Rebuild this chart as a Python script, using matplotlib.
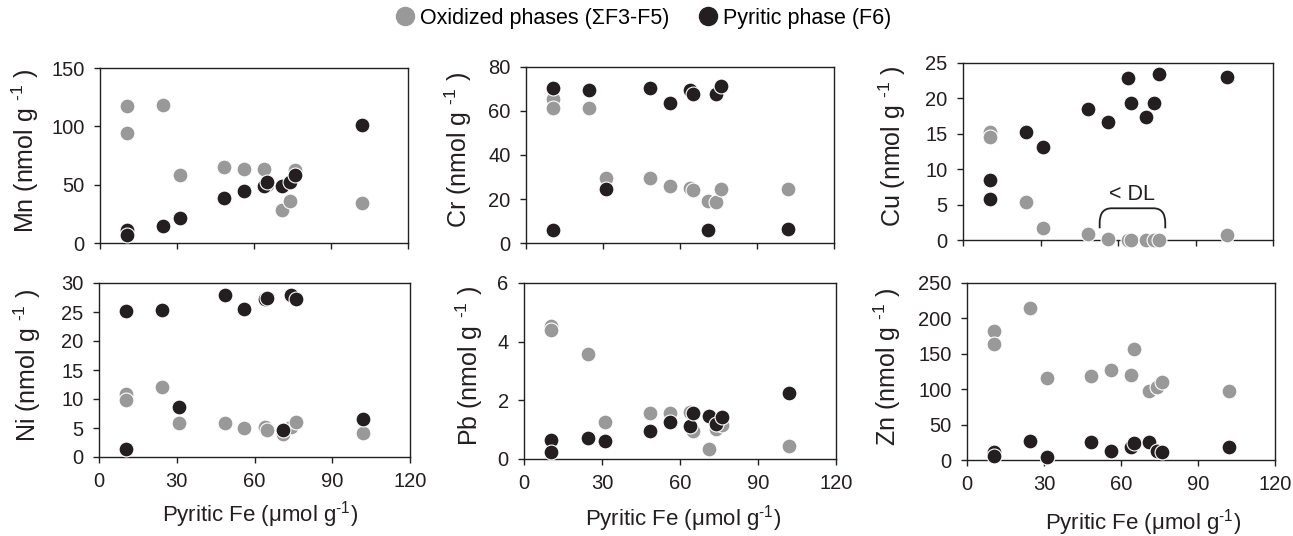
import matplotlib.pyplot as plt
from matplotlib.path import Path
from matplotlib.patches import PathPatch

plt.rcParams['font.family'] = ['Liberation Sans', 'DejaVu Sans']
plt.rcParams['mathtext.fontset'] = 'custom'
plt.rcParams['mathtext.rm'] = 'Liberation Sans'
plt.rcParams['mathtext.it'] = 'Liberation Sans:italic'

# Pyritic Fe (umol/g) for each sample
pyr_fe = [10.5, 10.5, 24.5, 31, 48.5, 56, 64, 65, 71, 74, 76, 102]

# Oxidized phases (sum F3-F5)
mn_ox = [117.6, 94.6, 118.2, 58, 65.4, 63.7, 63.7, 50, 28, 35.6, 62.5, 34.4]
cr_ox = [65.4, 61.3, 61.3, 29.7, 29.7, 25.9, 24.8, 24.0, 19.2, 18.7, 24.5, 24.5]
cu_ox = [15.2, 14.5, 5.3, 1.7, 0.85, 0.1, 0, 0, 0, 0, 0, 0.7]
ni_ox = [10.8, 9.9, 12.0, 5.9, 5.8, 5.0, 5.2, 4.7, 4.0, 5.2, 6.1, 4.2]
pb_ox = [4.53, 4.39, 3.57, 1.26, 1.56, 1.56, 1.59, 0.94, 0.34, 1.02, 1.17, 0.46]
zn_ox = [181.6, 163.7, 214, 115.6, 118.9, 127.4, 120.3, 157, 98, 102.8, 110.8, 98]

# Pyritic phase (F6)
mn_pyr = [10.9, 6.6, 14.9, 21.8, 39, 44.5, 48.8, 52.2, 48.8, 52.5, 58, 101]
cr_pyr = [70.4, 5.8, 69.4, 24.5, 70.4, 63.6, 69.7, 67.7, 6.1, 67.8, 71.5, 6.5]
cu_pyr = [8.5, 5.75, 15.2, 13.1, 18.5, 16.6, 22.9, 19.4, 17.4, 19.4, 23.5, 23.0]
ni_pyr = [25.2, 1.3, 25.4, 8.6, 27.9, 25.5, 27.3, 27.5, 4.7, 28.0, 27.2, 6.5]
pb_pyr = [0.66, 0.23, 0.71, 0.6, 0.96, 1.25, 1.14, 1.56, 1.45, 1.2, 1.42, 2.24]
zn_pyr = [10.8, 5, 27.4, 4.7, 25, 12.7, 17.9, 23.6, 26, 12.7, 11.8, 17.9]

grey = '#999999'
black = '#231f20'
W, H = 1293, 536
sup = '$^{\\text{-}1}$'

# element, ox, pyr, ymax, ystep, axes box (px: left, top, right, bottom), ylabel x px, xlabel (x, y) px
panels = [
    ('Mn', mn_ox, mn_pyr, 150, 50, (100, 68, 408, 243), 25, None),
    ('Cr', cr_ox, cr_pyr, 80, 20, (526, 67, 834, 243), 458, None),
    ('Cu', cu_ox, cu_pyr, 25, 5, (963, 63, 1273, 240), 892, None),
    ('Ni', ni_ox, ni_pyr, 30, 5, (99, 283, 410, 457), 27, (260, 515)),
    ('Pb', pb_ox, pb_pyr, 6, 2, (524, 283, 836, 459), 469, (683, 519)),
    ('Zn', zn_ox, zn_pyr, 250, 50, (967, 283, 1275, 460), 887, (1143, 523)),
]

fig = plt.figure(figsize=(12.93, 5.36), dpi=100)

for el, ox, pyr, ymax, ystep, box, ylx, xl in panels:
    l, t, r, b = box
    ax = fig.add_axes([l / W, 1 - b / H, (r - l) / W, (b - t) / H])
    ax.scatter(pyr_fe, ox, s=115, color=grey, edgecolor='white', linewidth=0.8, zorder=3,
               clip_on=False)
    ax.scatter(pyr_fe, pyr, s=115, color=black, edgecolor='white', linewidth=0.8, zorder=4,
               clip_on=False)
    ax.set_xlim(0, 120)
    ax.set_ylim(0, ymax)
    ax.set_xticks([0, 30, 60, 90, 120])
    ax.set_yticks(range(0, ymax + 1, ystep))
    ax.tick_params(direction='out', length=4, width=1, labelsize=14.5, colors='#231f20', pad=7)
    for sp in ax.spines.values():
        sp.set_linewidth(1)
        sp.set_color('#231f20')
    fig.text(ylx / W, 1 - ((t + b) / 2 - 5) / H, el + ' (nmol g ' + sup + ' )', rotation=90,
             ha='center', va='center', fontsize=18, color='#231f20')
    if xl is None:
        ax.set_xticklabels([])
    else:
        fig.text(xl[0] / W, 1 - xl[1] / H, 'Pyritic Fe (μmol g' + sup + ')', ha='center',
                 va='center', fontsize=16, color='#231f20')
    if el == 'Cu':
        # bracket over the values below detection limit
        verts = [(52.9, 1.65), (52.9, 2.4), (52.9, 4.48), (57.5, 4.48), (73.7, 4.48),
                 (78.3, 4.48), (78.3, 2.4), (78.3, 1.65)]
        codes = [Path.MOVETO, Path.LINETO, Path.CURVE3, Path.CURVE3, Path.LINETO,
                 Path.CURVE3, Path.CURVE3, Path.LINETO]
        ax.add_patch(PathPatch(Path(verts, codes), fill=False, lw=1.3, color='#231f20', zorder=5))
        ax.text(65.3, 6.4, '< DL', ha='center', va='center', fontsize=15.5, color='#231f20')

# legend at top
h1 = plt.Line2D([], [], marker='o', ls='', color=grey, markersize=13)
h2 = plt.Line2D([], [], marker='o', ls='', color=black, markersize=13)
fig.legend([h1, h2], ['Oxidized phases (ΣF3-F5)', 'Pyritic phase (F6)'],
           loc='center', bbox_to_anchor=(0.4965, 0.966), ncol=2, frameon=False,
           fontsize=15.5, handletextpad=0.1, columnspacing=1.2, handlelength=1.2)

fig.savefig('out.png', dpi=100)
